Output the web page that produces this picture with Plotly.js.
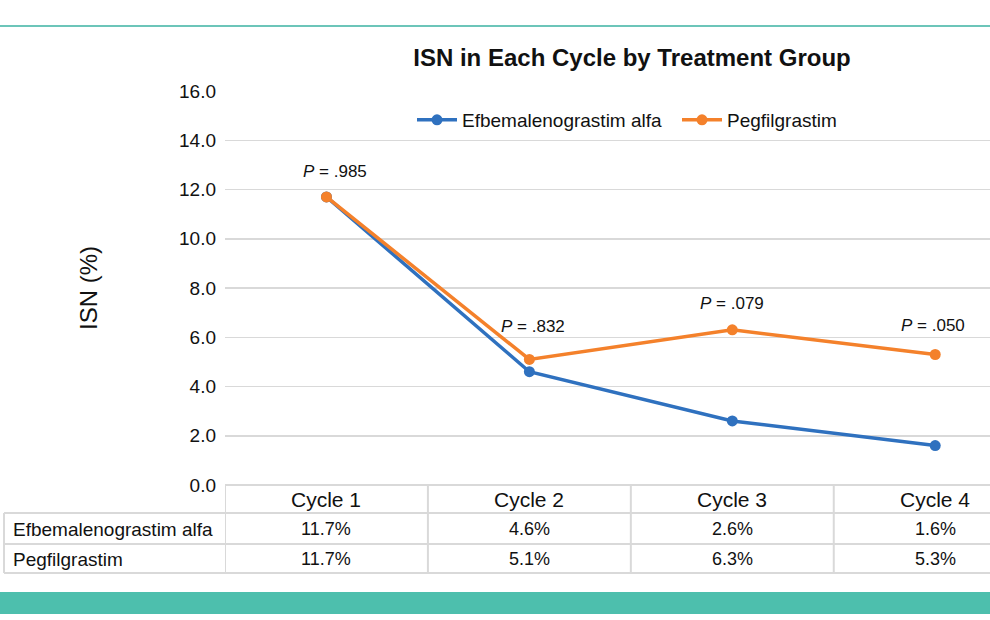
<!DOCTYPE html>
<html>
<head>
<meta charset="utf-8">
<script src="https://cdn.plot.ly/plotly-3.0.1.min.js"></script>
<style>html,body{margin:0;padding:0;background:#fff;}#chart{width:990px;height:620px;}</style>
</head>
<body>
<div id="chart"></div>
<script>
// ---- data ----
var categories = ["Cycle 1", "Cycle 2", "Cycle 3", "Cycle 4"];
var seriesNames = ["Efbemalenograstim alfa", "Pegfilgrastim"];
var efbemalenograstim = [11.7, 4.6, 2.6, 1.6];
var pegfilgrastim = [11.7, 5.1, 6.3, 5.3];
var pValues = [".985", ".832", ".079", ".050"];
var yTickVals = [0, 2, 4, 6, 8, 10, 12, 14, 16];

// ---- styling ----
var BLUE = "#2f71bf";
var ORANGE = "#f4812b";
var GRID = "#d9d9d9";
var FONT = "Liberation Sans, Arial, sans-serif";
var idx = categories.map(function (c, i) { return i; });

// pixel helpers (plot area: x 225..990, y 91..485)
var L = 225, R = 990, T = 91, B = 485;
function px(p) { return (p - L) / (R - L); }
function py(p) { return (B - p) / (B - T); }

var traces = [
  {
    x: idx, y: efbemalenograstim, name: seriesNames[0], type: "scatter", mode: "lines+markers",
    line: { color: BLUE, width: 3.5 }, marker: { color: BLUE, size: 11 }, cliponaxis: false,
    legend: "legend"
  },
  {
    x: idx, y: pegfilgrastim, name: seriesNames[1], type: "scatter", mode: "lines+markers",
    line: { color: ORANGE, width: 3.5 }, marker: { color: ORANGE, size: 11 }, cliponaxis: false,
    legend: "legend2"
  }
];

var annotations = [];
var shapes = [];

// y-axis title
annotations.push({
  text: "ISN (%)", xref: "paper", yref: "paper", x: px(88), y: 0.5,
  textangle: -90, showarrow: false, xanchor: "center", yanchor: "middle",
  font: { family: FONT, size: 24, color: "#111" }
});

// P-value labels
var pShiftX = [9, 4, 0, -2];
var pShiftY = [25, 33, 26, 29];
pValues.forEach(function (p, i) {
  annotations.push({
    text: "<i>P</i> = " + p, x: i, y: pegfilgrastim[i], xref: "x", yref: "y",
    showarrow: false, xshift: pShiftX[i], yshift: pShiftY[i],
    font: { family: FONT, size: 17, color: "#111" }
  });
});

// data table below the axis
var rowLines = [485, 513, 544, 573];
var headerY = 499, row1Y = 529, row2Y = 559;
categories.forEach(function (c, i) {
  annotations.push({
    text: c, x: i, y: py(headerY), xref: "x", yref: "paper", showarrow: false,
    xanchor: "center", yanchor: "middle", font: { family: FONT, size: 21, color: "#111" }
  });
  annotations.push({
    text: efbemalenograstim[i].toFixed(1) + "%", x: i, y: py(row1Y), xref: "x", yref: "paper",
    showarrow: false, xanchor: "center", yanchor: "middle", font: { family: FONT, size: 18, color: "#111" }
  });
  annotations.push({
    text: pegfilgrastim[i].toFixed(1) + "%", x: i, y: py(row2Y), xref: "x", yref: "paper",
    showarrow: false, xanchor: "center", yanchor: "middle", font: { family: FONT, size: 18, color: "#111" }
  });
});
[row1Y, row2Y].forEach(function (yy, r) {
  annotations.push({
    text: seriesNames[r], x: px(11), y: py(yy), xref: "paper", yref: "paper", showarrow: false,
    xanchor: "left", yanchor: "middle", font: { family: FONT, size: 19, color: "#111" }
  });
});

// table lines
shapes.push({ type: "line", xref: "x", yref: "paper", x0: -0.5, x1: 3.27, y0: py(rowLines[0]), y1: py(rowLines[0]), line: { color: GRID, width: 2 } });
for (var k = 1; k < rowLines.length; k++) {
  shapes.push({ type: "line", xref: "paper", yref: "paper", x0: px(4), x1: 1, y0: py(rowLines[k]), y1: py(rowLines[k]), line: { color: GRID, width: 2 } });
}
shapes.push({ type: "line", xref: "paper", yref: "paper", x0: px(4), x1: px(4), y0: py(rowLines[1]), y1: py(rowLines[3]), line: { color: GRID, width: 2 } });
[-0.5, 0.5, 1.5, 2.5].forEach(function (b) {
  shapes.push({ type: "line", xref: "x", yref: "paper", x0: b, x1: b, y0: py(rowLines[0]), y1: py(rowLines[3]), line: { color: GRID, width: 2 } });
});

// decorative teal rules
shapes.push({ type: "line", xref: "paper", yref: "paper", x0: px(0), x1: 1, y0: py(26), y1: py(26), line: { color: "#6cc5b9", width: 2 } });
shapes.push({ type: "rect", xref: "paper", yref: "paper", x0: px(0), x1: 1, y0: py(614), y1: py(592), fillcolor: "#4dbfad", line: { width: 0 } });

var legendStyle = function (xpix) {
  return {
    orientation: "h", x: px(xpix), y: py(120), xanchor: "left", yanchor: "middle",
    font: { family: FONT, size: 19, color: "#111" }, bgcolor: "rgba(0,0,0,0)",
    itemwidth: 40
  };
};

var layout = {
  width: 990, height: 620,
  margin: { l: L, r: 990 - R, t: T, b: 620 - B, pad: 0 },
  paper_bgcolor: "#fff", plot_bgcolor: "#fff",
  font: { family: FONT, color: "#111" },
  title: {
    text: "<b>ISN in Each Cycle by Treatment Group</b>",
    xref: "paper", x: px(632), xanchor: "center",
    yref: "container", y: 1 - 58 / 620, yanchor: "middle",
    font: { family: FONT, size: 24, color: "#111" }
  },
  xaxis: {
    range: [-0.5, 3.27], showgrid: false, zeroline: false, showline: false,
    showticklabels: false, ticks: "", fixedrange: true
  },
  yaxis: {
    range: [0, 16], tickvals: yTickVals, tickformat: ".1f",
    showgrid: true, gridcolor: GRID, gridwidth: 1.5, zeroline: false, showline: false,
    ticks: "", ticklabelstandoff: 8,
    tickfont: { family: FONT, size: 19, color: "#111" }
  },
  showlegend: true,
  legend: legendStyle(412),
  legend2: legendStyle(677),
  annotations: annotations,
  shapes: shapes
};

Plotly.newPlot("chart", traces, layout, { displayModeBar: false, staticPlot: true });
</script>
</body>
</html>
